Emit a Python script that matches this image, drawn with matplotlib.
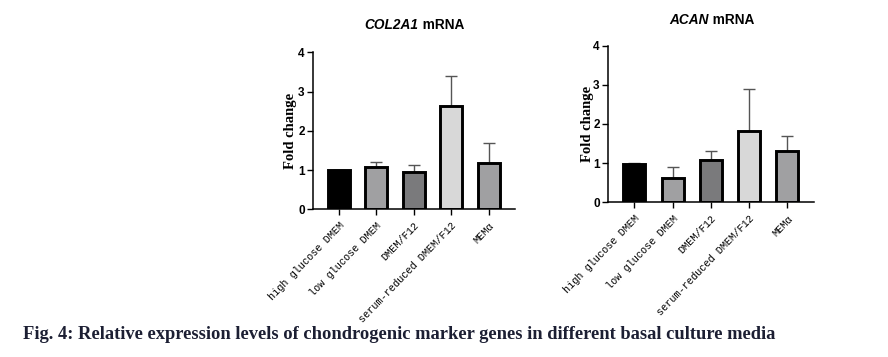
import matplotlib
matplotlib.use("Agg")
import matplotlib.pyplot as plt
import numpy as np

categories = ["high glucose DMEM", "low glucose DMEM", "DMEM/F12",
              "serum-reduced DMEM/F12", "MEMα"]
col2a1_mean = [1.00, 1.08, 0.94, 2.62, 1.18]
col2a1_err = [0.00, 0.12, 0.20, 0.78, 0.52]
acan_mean = [0.99, 0.63, 1.08, 1.83, 1.32]
acan_err = [0.01, 0.26, 0.22, 1.06, 0.38]
bar_colors = ["#000000", "#a0a0a2", "#7a7a7c", "#d8d8d8", "#a0a0a2"]
yticks = [0, 1, 2, 3, 4]

W, H = 888, 357
fig = plt.figure(figsize=(W / 100, H / 100), dpi=100)
renderer = fig.canvas.get_renderer()


def px_axes(x0, x1, ytop, ybot):
    return fig.add_axes([x0 / W, 1 - ybot / H, (x1 - x0) / W, (ybot - ytop) / H])


def two_part_title(gene, rest, cx, cy, size=9.8):
    t1 = fig.text(0, 1 - cy / H, gene, ha="left", va="center",
                  fontfamily="Liberation Sans", fontweight="bold",
                  fontstyle="italic", fontsize=size)
    t2 = fig.text(0, 1 - cy / H, " " + rest, ha="left", va="center",
                  fontfamily="Liberation Sans", fontweight="bold", fontsize=size)
    w1 = t1.get_window_extent(renderer).width
    w2 = t2.get_window_extent(renderer).width
    left = cx - (w1 + w2) / 2
    t1.set_x(left / W)
    t2.set_x((left + w1) / W)


def draw(ax, means, errs, ylab_x):
    x = np.arange(len(categories))
    ax.bar(x, means, width=0.58, color=bar_colors, edgecolor="black",
           linewidth=2.1, zorder=2)
    ax.errorbar(x, means, yerr=[np.zeros(len(errs)), errs], fmt="none",
                ecolor="#555555", elinewidth=1.0, capsize=4.5, capthick=1.0,
                zorder=1)
    ax.set_xlim(-0.69, 4.70)
    ax.set_ylim(0, 4)
    ax.set_yticks(yticks)
    ax.set_yticklabels([str(t) for t in yticks], fontfamily="Liberation Sans",
                       fontweight="bold", fontsize=8.5)
    ax.set_xticks(x)
    ax.set_xticklabels(categories, rotation=46, ha="right", va="top",
                       rotation_mode="anchor", fontfamily="Liberation Mono",
                       fontsize=7.4)
    ax.tick_params(axis="y", length=4, width=1.0, pad=2)
    ax.tick_params(axis="x", length=4, width=1.0, pad=4)
    for s in ("top", "right"):
        ax.spines[s].set_visible(False)
    for s in ("left", "bottom"):
        ax.spines[s].set_linewidth(1.1)
    ax.set_facecolor("none")
    cy = (ax.get_position().y0 + ax.get_position().y1) / 2
    fig.text(ylab_x / W, cy, "Fold change", rotation=90, ha="center",
             va="center", fontfamily="Liberation Serif", fontweight="bold",
             fontsize=10.5)


ax1 = px_axes(313, 515, 52.3, 209.3)
draw(ax1, col2a1_mean, col2a1_err, 290.5)
two_part_title("COL2A1", "mRNA", 414.5, 25)
ax2 = px_axes(608, 814, 45.7, 202.3)
draw(ax2, acan_mean, acan_err, 587)
two_part_title("ACAN", "mRNA", 711.5, 19.5)

fig.text(23 / W, 1 - 339 / H,
         "Fig. 4: Relative expression levels of chondrogenic marker genes in different basal culture media",
         ha="left", va="baseline", fontfamily="Liberation Serif",
         fontweight="bold", fontsize=13.3, color="#1c1f33")

fig.savefig("out.png", dpi=100)
